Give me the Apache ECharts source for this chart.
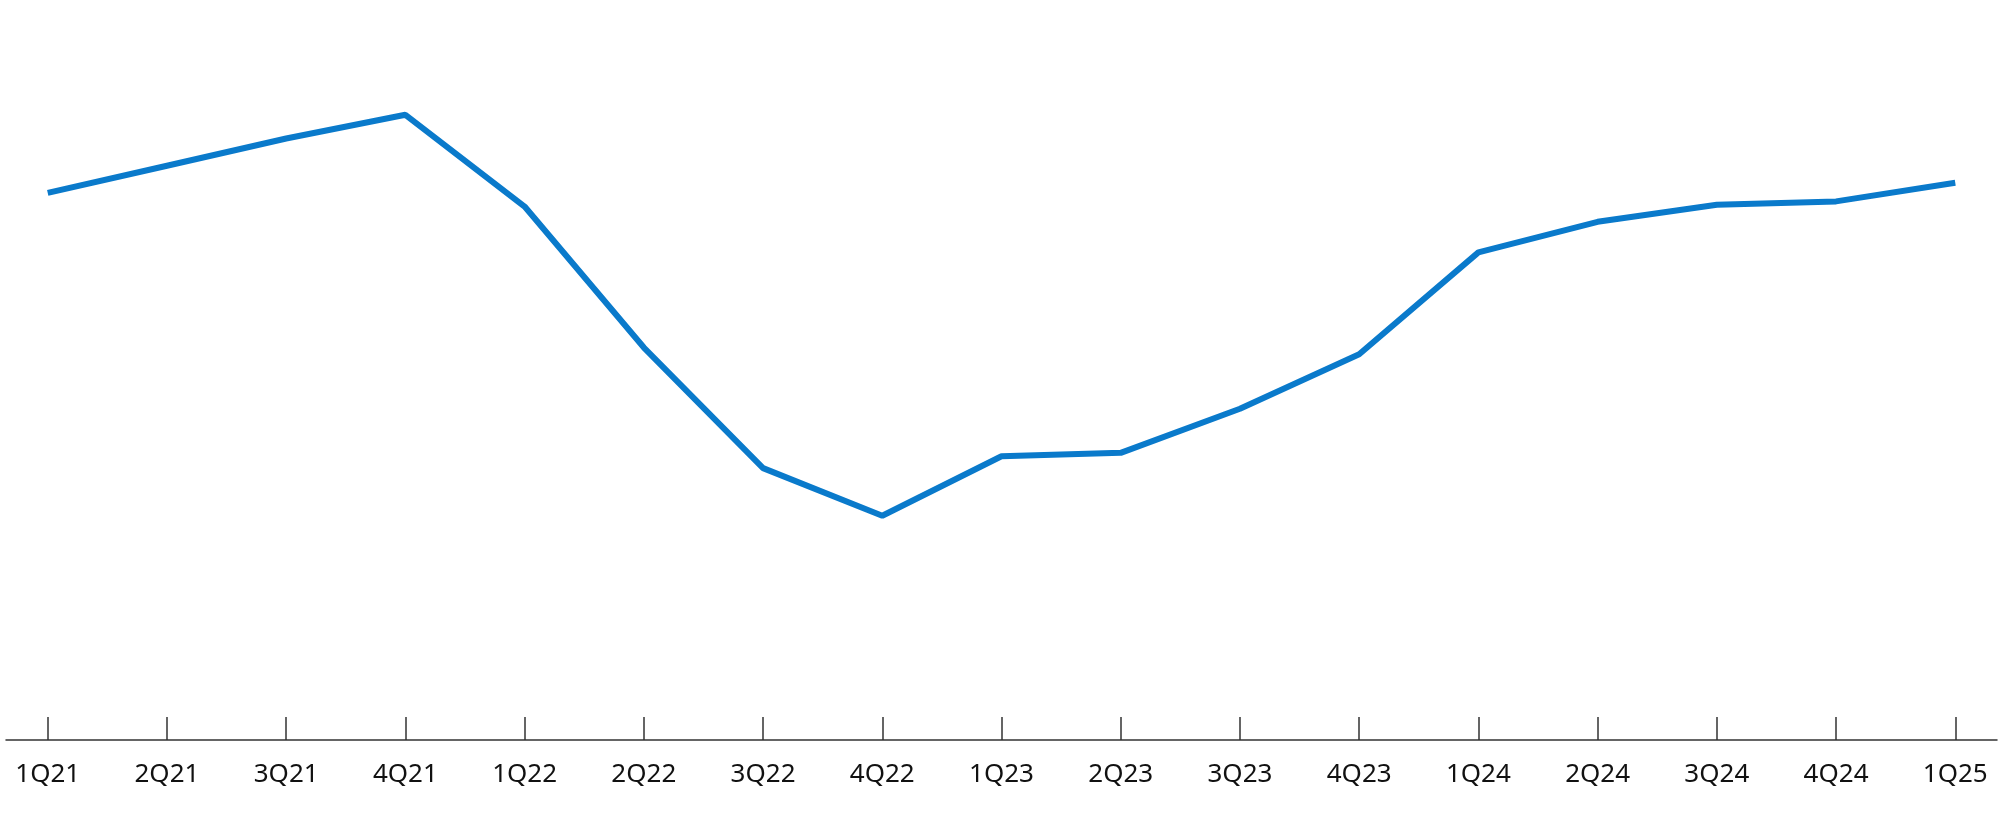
<!DOCTYPE html>
<html><head><meta charset="utf-8">
<script src="https://cdn.jsdelivr.net/npm/echarts@6/dist/echarts.min.js"></script>
<style>html,body{margin:0;background:#fff}#c{width:2000px;height:815px}</style>
</head><body><div id="c"></div>
<script>
const categories = ['1Q21','2Q21','3Q21','4Q21','1Q22','2Q22','3Q22','4Q22','1Q23','2Q23','3Q23','4Q23','1Q24','2Q24','3Q24','4Q24','1Q25'];
const values = [3.9,4.06,4.22,4.36,3.82,2.99,2.28,2.0,2.35,2.37,2.63,2.95,3.55,3.73,3.83,3.85,3.96];
const labels = ['3.9','4.1','4.3','4.4','3.7','2.9','2.3','2.0','2.4','2.4','2.7','3.0','3.6','3.8','3.9','3.9','4.0'];
const idx = categories.map((_, i) => i);
const chart = echarts.init(document.getElementById('c'));
chart.setOption({
  animation: false,
  grid: {left: 6, right: 3, top: 40, bottom: 75},
  xAxis: {
    type: 'value', min: -0.35, max: 16.35,
    splitLine: {show: false},
    axisLine: {show: true, lineStyle: {color: '#333', width: 1.5}},
    axisTick: {show: true, inside: true, length: 23, customValues: idx, lineStyle: {color: '#333', width: 1.5}},
    axisLabel: {customValues: idx, formatter: v => categories[Math.round(v)], fontSize: 26, color: '#111', margin: 22, fontFamily: 'Noto Sans'}
  },
  yAxis: {type: 'value', min: 0.68, max: 4.8, show: false},
  series: [{
    type: 'line',
    data: idx.map(i => [i, values[i]]),
    symbol: 'circle', symbolSize: 1, showSymbol: true,
    itemStyle: {color: '#0a7acb', opacity: 0},
    lineStyle: {color: '#0a7acb', width: 6},
    labelLayout: {hideOverlap: false},
    label: {show: true, position: 'top', distance: 30, fontSize: 36, fontWeight: 'bold', color: '#111', fontFamily: 'Noto Sans',
      formatter: p => labels[p.dataIndex]}
  }]
});
</script></body></html>
